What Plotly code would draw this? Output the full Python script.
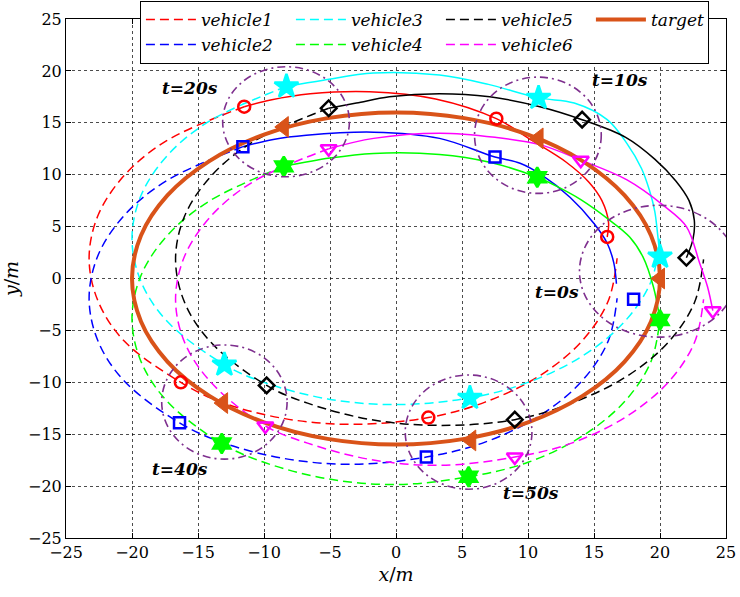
import plotly.graph_objects as go

# ---------------- data ----------------
names = ["vehicle1", "vehicle2", "vehicle3", "vehicle4", "vehicle5", "vehicle6"]
times = [0, 10, 20, 40, 50]

# target path (ellipse)
target_x = [20.0, 19.32, 17.32, 14.14, 10.0, 5.18, 0.0, -5.18, -10.0, -14.14, -17.32, -19.32, -20.0,
            -19.32, -17.32, -14.14, -10.0, -5.18, 0.0, 5.18, 10.0, 14.14, 17.32, 19.32, 20.0]
target_y = [0.0, 4.14, 8.0, 11.31, 13.86, 15.45, 16.0, 15.45, 13.86, 11.31, 8.0, 4.14, 0.0,
            -4.14, -8.0, -11.31, -13.86, -15.45, -16.0, -15.45, -13.86, -11.31, -8.0, -4.14, 0.0]
target_mx = [20.0, 10.8, -8.5, -13.1, 5.7]
target_my = [0.0, 13.5, 14.6, -12.0, -15.6]

# vehicle markers at t = 0, 10, 20, 40, 50 s
v1_mx = [16.0, 7.6, -11.5, -16.3, 2.45]
v1_my = [4.0, 15.4, 16.55, -10.0, -13.4]
v2_mx = [18.0, 7.5, -11.6, -16.4, 2.3]
v2_my = [-2.0, 11.7, 12.7, -13.9, -17.2]
v3_mx = [20.0, 10.8, -8.3, -13.0, 5.6]
v3_my = [2.1, 17.4, 18.5, -8.3, -11.5]
v4_mx = [20.0, 10.7, -8.5, -13.2, 5.5]
v4_my = [-4.0, 9.75, 10.8, -15.9, -19.1]
v5_mx = [22.0, 14.1, -5.1, -9.8, 9.0]
v5_my = [2.0, 15.3, 16.4, -10.3, -13.6]
v6_mx = [24.0, 14.0, -5.1, -9.9, 9.0]
v6_my = [-3.1, 11.4, 12.5, -14.2, -17.2]

# solid part of each path (t = 0 ... 20 s)
v1_sx = [16.0, 16.1, 15.6, 14.6, 12.9, 10.3, 7.6, 3.0, -2.0, -6.5, -9.5, -11.5]
v1_sy = [4.0, 5.4, 7.5, 9.3, 11.2, 13.3, 15.4, 17.3, 18.0, 17.8, 17.2, 16.55]
v2_sx = [16.7, 16.5, 16.0, 15.0, 13.2, 11.0, 9.4, 7.5, 3.3, -1.7, -6.8, -9.3, -11.6]
v2_sy = [-0.5, 1.5, 3.4, 5.3, 7.8, 10.0, 11.1, 11.7, 13.5, 14.1, 13.8, 13.4, 12.7]
v3_sx = [20.0, 19.8, 19.6, 19.2, 18.6, 17.5, 16.0, 13.5, 10.8, 7.0, 3.3, -1.7, -5.5, -8.3]
v3_sy = [2.1, 4.5, 6.5, 8.5, 10.6, 13.0, 15.3, 16.9, 17.4, 18.7, 19.6, 19.8, 19.1, 18.5]
v4_sx = [20.0, 19.5, 18.7, 17.7, 16.1, 14.0, 12.3, 10.7, 7.1, 3.3, -1.7, -5.0, -8.5]
v4_sy = [-4.0, -0.8, 2.1, 4.0, 5.7, 7.6, 8.8, 9.75, 11.2, 11.95, 12.05, 11.6, 10.8]
v5_sx = [22.0, 22.5, 22.6, 22.2, 21.2, 19.6, 17.4, 14.1, 10.9, 7.1, 3.3, -0.5, -3.0, -5.1]
v5_sy = [2.0, 3.8, 5.6, 7.5, 9.4, 11.5, 13.6, 15.3, 16.55, 17.5, 17.8, 17.5, 16.9, 16.4]
v6_sx = [24.0, 23.6, 23.0, 22.0, 20.3, 17.5, 14.0, 10.9, 7.5, 3.3, -1.7, -5.1]
v6_sy = [-3.1, -0.8, 1.5, 5.0, 7.0, 9.5, 11.4, 12.9, 13.6, 14.0, 13.5, 12.5]

# dashed part of each path (t = 20 s ... end)
v1_dx = [-11.5, -17.4, -20.57, -22.57, -23.25, -22.57, -20.57, -16.3, -13.25, -8.43, -3.25, 2.45, 6.75, 10.89, 14.07, 16.07, 16.75]
v1_dy = [16.55, 13.26, 9.95, 6.09, 1.95, -2.19, -6.05, -10.0, -11.91, -13.5, -14.05, -13.4, -11.91, -9.36, -6.05, -2.19, 1.95]
v2_dx = [-11.6, -17.39, -20.57, -22.57, -23.25, -22.57, -20.57, -16.4, -13.25, -8.43, -3.25, 2.3, 6.75, 10.89, 14.07, 16.07, 16.75]
v2_dy = [12.7, 9.41, 6.1, 2.24, -1.9, -6.04, -9.9, -13.9, -15.76, -17.35, -17.9, -17.2, -15.76, -13.21, -9.9, -6.04, -1.9]
v3_dx = [-8.3, -14.14, -17.32, -19.32, -20.0, -19.32, -17.32, -13.0, -10.0, -5.18, 0.0, 5.6, 10.0, 14.14, 17.32, 19.32, 20.0]
v3_dy = [18.5, 15.16, 11.85, 7.99, 3.85, -0.29, -4.15, -8.3, -10.01, -11.6, -12.15, -11.5, -10.01, -7.46, -4.15, -0.29, 3.85]
v4_dx = [-8.5, -14.14, -17.32, -19.32, -20.0, -19.32, -17.32, -13.2, -10.0, -5.18, 0.0, 5.5, 10.0, 14.14, 17.32, 19.32, 20.0]
v4_dy = [10.8, 7.46, 4.15, 0.29, -3.85, -7.99, -11.85, -15.9, -17.71, -19.3, -19.85, -19.1, -17.71, -15.16, -11.85, -7.99, -3.85]
v5_dx = [-5.1, -10.84, -14.02, -16.02, -16.7, -16.02, -14.02, -9.8, -6.7, -1.88, 3.3, 9.0, 13.3, 17.44, 20.62, 22.62, 23.3]
v5_dy = [16.4, 13.16, 9.85, 5.99, 1.85, -2.29, -6.15, -10.3, -12.01, -13.6, -14.15, -13.6, -12.01, -9.46, -6.15, -2.29, 1.85]
v6_dx = [-5.1, -10.84, -14.02, -16.02, -16.7, -16.02, -14.02, -9.9, -6.7, -1.88, 3.3, 9.0, 13.3, 17.44, 20.62, 22.62, 23.3]
v6_dy = [12.5, 9.31, 6.0, 2.14, -2.0, -6.14, -10.0, -14.2, -15.86, -17.45, -18.0, -17.2, -15.86, -13.31, -10.0, -6.14, -2.0]

# time labels and highlight circles
label_text = ["t=0s", "t=10s", "t=20s", "t=40s", "t=50s"]
label_x = [12.2, 17.0, -15.6, -16.4, 10.2]
label_y = [-1.3, 19.1, 18.4, -18.4, -20.7]
circle_cx = [19.9, 10.75, -8.33, -13.0, 5.5]
circle_cy = [0.7, 13.8, 15.1, -11.9, -14.8]
circle_rx = [6.0, 4.8, 4.8, 4.75, 4.8]
circle_ry = [6.35, 5.6, 5.3, 5.5, 5.5]

# ---------------- styling ----------------
colors = ["#FF0000", "#0000FF", "#00FFFF", "#00FF00", "#000000", "#FF00FF"]
symbols = ["circle-open", "square-open", "star", "hexagram", "diamond-open", "triangle-down-open"]
msizes = [12, 11, 18, 15, 12, 14]
ranks = [1, 5, 2, 6, 3, 7]
TARGET = "#D95319"
PURPLE = "#7E2F8E"
SERIF = "DejaVu Serif"
DASH = "9px,5px"

solid = [(v1_sx, v1_sy), (v2_sx, v2_sy), (v3_sx, v3_sy), (v4_sx, v4_sy), (v5_sx, v5_sy), (v6_sx, v6_sy)]
dashed = [(v1_dx, v1_dy), (v2_dx, v2_dy), (v3_dx, v3_dy), (v4_dx, v4_dy), (v5_dx, v5_dy), (v6_dx, v6_dy)]
marks = [(v1_mx, v1_my), (v2_mx, v2_my), (v3_mx, v3_my), (v4_mx, v4_my), (v5_mx, v5_my), (v6_mx, v6_my)]

fig = go.Figure()

for i, n in enumerate(names):
    fig.add_trace(go.Scatter(x=dashed[i][0], y=dashed[i][1], mode="lines", name=n,
                             line=dict(color=colors[i], width=1.5, dash=DASH, shape="spline"),
                             legendrank=ranks[i], showlegend=True))
    fig.add_trace(go.Scatter(x=solid[i][0], y=solid[i][1], mode="lines", name=n,
                             line=dict(color=colors[i], width=1.5, shape="spline"),
                             showlegend=False))

fig.add_trace(go.Scatter(x=target_x, y=target_y, mode="lines", name="target",
                         line=dict(color=TARGET, width=4, shape="spline"),
                         legendrank=4, showlegend=True, legendwidth=52))

for i, n in enumerate(names):
    fig.add_trace(go.Scatter(x=marks[i][0], y=marks[i][1], mode="markers", name=n,
                             marker=dict(symbol=symbols[i], size=msizes[i], color=colors[i],
                                         line=dict(color=colors[i], width=2.5)),
                             showlegend=False))

fig.add_trace(go.Scatter(x=target_mx, y=target_my, mode="markers", name="target",
                         marker=dict(symbol="triangle-left", size=18, color=TARGET,
                                     line=dict(color=TARGET, width=1)),
                         showlegend=False))

for cx, cy, rx, ry in zip(circle_cx, circle_cy, circle_rx, circle_ry):
    fig.add_shape(type="circle", xref="x", yref="y", x0=cx - rx, x1=cx + rx, y0=cy - ry, y1=cy + ry,
                  line=dict(color=PURPLE, width=1.6, dash="8px,4px,2px,4px"), layer="above")

for t, x, y in zip(label_text, label_x, label_y):
    fig.add_annotation(x=x, y=y, text="<b><i>%s</i></b>" % t, showarrow=False,
                       font=dict(family=SERIF, size=17, color="black"))

axis_common = dict(range=[-25, 25], dtick=5, tick0=-25, showgrid=True, gridcolor="rgba(0,0,0,0.7)",
                   griddash="dot", gridwidth=1, zeroline=False, showline=True, linecolor="black",
                   linewidth=1, mirror="ticks", ticks="inside", ticklen=5, tickcolor="black",
                   tickfont=dict(family=SERIF, size=16, color="black"))

fig.update_layout(
    width=740, height=597,
    margin=dict(l=66, r=14, t=19, b=59, autoexpand=False),
    paper_bgcolor="white", plot_bgcolor="white",
    showlegend=True,
    legend=dict(orientation="h", x=0.112, y=1.035, xanchor="left", yanchor="top",
                bgcolor="white", bordercolor="black", borderwidth=1,
                font=dict(family=SERIF, size=17, color="black", style="italic"),
                itemwidth=50, entrywidth=85, tracegroupgap=0),
    xaxis=dict(title=dict(text="<i>x</i>/<i>m</i>", font=dict(family=SERIF, size=19, color="black"), standoff=6), **axis_common),
    yaxis=dict(title=dict(text="<i>y</i>/<i>m</i>", font=dict(family=SERIF, size=19, color="black"), standoff=8), **axis_common),
)

fig.write_html("out.html")
